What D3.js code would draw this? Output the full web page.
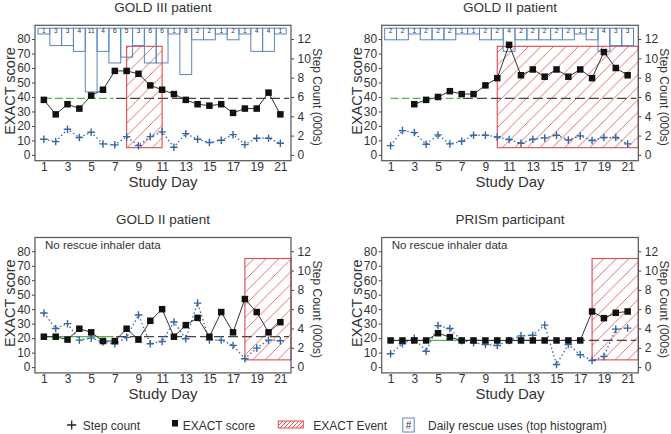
<!DOCTYPE html>
<html><head><meta charset="utf-8">
<script src="https://cdn.jsdelivr.net/npm/d3@7"></script>
<style>
html,body{margin:0;padding:0;background:#fff;}
svg{display:block;font-family:Arial,"Liberation Sans",sans-serif;}
</style></head>
<body>
<svg id="chart" width="671" height="434"></svg>
<script>
// ---------- data ----------
const days = [1,2,3,4,5,6,7,8,9,10,11,12,13,14,15,16,17,18,19,20,21];
const xTickLabels = [1,3,5,7,9,11,13,15,17,19,21];
const exactTicks = [0,10,20,30,40,50,60,70,80];
const stepTicks = [0,2,4,6,8,10,12];
const titles = ["GOLD III patient","GOLD II patient","GOLD II patient","PRISm participant"];

// EXACT scores
const p1Exact = [38,28,35,32,41,45,58,58,56,48,45,42,38,35,34,35,29,32,32,43,28];
const p2Exact = [null,null,35,38,40,44,42,42,48,53,76,55,59,54,59,54,59,53,71,60,55];
const p3Exact = [21,21,19,26.5,24,18,18,26.5,19,32,40,21,29,34,21,38,24,47,38,24,31];
const p4Exact = [18.4,18.4,18.4,18.4,23.4,20.7,18.4,18.4,18.4,18.4,18.4,18.4,18.4,18.4,18.4,18.4,18.4,38.4,33.8,37.5,38.4];

// Step counts (000s)
const p1Steps = [1.62,1.38,2.66,1.8,2.34,1.14,1.04,1.89,0.96,1.89,2.39,0.8,2.2,1.62,1.28,1.52,2.1,1.07,1.73,1.73,1.2];
const p2Steps = [0.96,2.52,2.31,1.11,2.07,1.14,1.41,2.04,2.04,1.86,1.59,1.2,1.62,1.76,2.04,1.55,1.97,1.49,1.8,1.8,1.14];
const p3Steps = [5.6,4.0,4.5,2.8,3.0,2.6,2.42,3.08,5.39,2.42,2.66,4.67,2.94,6.63,2.8,2.8,2.25,0.87,1.97,2.8,2.73];
const p4Steps = [1.38,2.42,3.0,1.65,4.3,4.0,2.73,2.52,2.34,2.24,2.76,3.24,3.3,4.35,0.27,2.34,1.28,0.69,1.11,3.93,4.04];

// Daily rescue inhaler uses (top histogram)
const p1Rescue = [1,3,3,4,11,4,6,5,3,6,6,1,8,2,2,1,2,1,4,4,1];
const p2Rescue = [2,2,1,2,2,2,1,1,2,2,4,2,2,2,2,2,1,2,4,3,3];

// Baseline EXACT (mean of first week)
const baselines = [39,39,21,18.5];
// EXACT event: [start day, end day] (22 = end of window)
const eventDays = [[8,11],[10,22],[18,22],[18,22]];
const eventRange = [5,75];

const legendLabels = ["Step count","EXACT score","EXACT Event","Daily rescue uses (top histogram)"];

// ---------- layout ----------
const svg = d3.select("#chart");
const cols = [[35,291],[381.7,638.3]];
const rows = [[25.3,160.7],[237.5,372.9]];
const panels = [
  {c:0,r:0,exact:p1Exact,steps:p1Steps,rescue:p1Rescue,greenSolid:false},
  {c:1,r:0,exact:p2Exact,steps:p2Steps,rescue:p2Rescue,greenSolid:false},
  {c:0,r:1,exact:p3Exact,steps:p3Steps,rescue:null,greenSolid:true},
  {c:1,r:1,exact:p4Exact,steps:p4Steps,rescue:null,greenSolid:true}
];

const RED = "#e2474b", BLUE = "#3567a6", HBLUE = "#5a86bf", GREEN = "#55b24f";

const defs = svg.append("defs");
function hatch(id, s, w){
  const p = defs.append("pattern").attr("id",id).attr("patternUnits","userSpaceOnUse")
    .attr("width",s).attr("height",s);
  [[0,s,s,0],[-s/4,s/4,s/4,-s/4],[s-s/4,s+s/4,s+s/4,s-s/4]].forEach(d=>{
    p.append("line").attr("x1",d[0]).attr("y1",d[1]).attr("x2",d[2]).attr("y2",d[3])
      .attr("stroke",RED).attr("stroke-width",w);
  });
}
hatch("hatch",12.5,0.8);
hatch("hatchS",4,0.9);

const plusPath = s => `M${-s/2},0H${s/2}M0,${-s/2}V${s/2}`;

panels.forEach((P,i)=>{
  const [x0,x1] = cols[P.c], [y0,y1] = rows[P.r];
  const x = d3.scaleLinear().domain([0.25,21.9]).range([x0,x1]);
  const y = d3.scaleLinear().domain([-4,89.5]).range([y1,y0]);
  const y2 = d3.scaleLinear().domain([-4*12/80,89.5*12/80]).range([y1,y0]);
  const g = svg.append("g");

  // title
  g.append("text").attr("x",(x0+x1)/2).attr("y",y0-13.5).attr("text-anchor","middle")
    .attr("font-size",13.5).attr("fill","#333").text(titles[i]);

  // axes
  const ax = g.append("g").attr("transform",`translate(${x0},0)`)
    .call(d3.axisLeft(y).tickValues(exactTicks).tickSize(3).tickPadding(1.5));
  const ax2 = g.append("g").attr("transform",`translate(${x1},0)`)
    .call(d3.axisRight(y2).tickValues(stepTicks).tickSize(3).tickPadding(3.5));
  const axb = g.append("g").attr("transform",`translate(0,${y1})`)
    .call(d3.axisBottom(x).tickValues(xTickLabels).tickSize(0).tickPadding(2));
  [ax,ax2,axb].forEach(a=>{
    a.select(".domain").remove();
    a.selectAll("line").attr("stroke","#444");
    a.selectAll("text").attr("font-size",12).attr("fill","#333").attr("font-family",null);
  });

  // axis titles
  g.append("text").attr("transform",`translate(${x0-20},${(y0+y1)/2-2}) rotate(-90)`)
    .attr("text-anchor","middle").attr("font-size",14.5).attr("fill","#333").text("EXACT score");
  g.append("text").attr("transform",`translate(${x1+22},${(y0+y1)/2+4}) rotate(90)`)
    .attr("text-anchor","middle").attr("font-size",12).attr("fill","#333").text("Step Count (000s)");
  g.append("text").attr("x",(x0+x1)/2).attr("y",y1+26.5).attr("text-anchor","middle")
    .attr("font-size",15).attr("fill","#333").text("Study Day");

  // EXACT event
  const ev = eventDays[i];
  const ex1 = Math.min(x(ev[1]), x1);
  g.append("rect").attr("x",x(ev[0])).attr("y",y(eventRange[1]))
    .attr("width",ex1-x(ev[0])).attr("height",y(eventRange[0])-y(eventRange[1]))
    .attr("fill","url(#hatch)").attr("stroke",RED).attr("stroke-width",1.1);

  // rescue histogram
  if(P.rescue){
    const hTop = 87.5, hUnit = 4;
    const hg = g.append("g");
    hg.selectAll("rect").data(P.rescue).join("rect")
      .attr("x",(d,j)=>x(days[j]-0.5)).attr("width",(d,j)=>x(days[j]+0.5)-x(days[j]-0.5))
      .attr("y",y(hTop)).attr("height",d=>y(hTop-hUnit*d)-y(hTop))
      .attr("fill","none").attr("stroke",HBLUE).attr("stroke-width",1);
    hg.selectAll("text").data(P.rescue).join("text")
      .attr("x",(d,j)=>x(days[j])).attr("y",y(hTop-hUnit*0.5)+2.2)
      .attr("text-anchor","middle").attr("font-size",6.5).attr("fill","#333").text(d=>d);
  } else {
    g.append("text").attr("x",x0+10).attr("y",y0+11).attr("font-size",11.5).attr("fill","#333")
      .text("No rescue inhaler data");
  }

  // baseline
  const b = baselines[i];
  g.append("line").attr("x1",x(1)).attr("x2",x(6.9)).attr("y1",y(b)).attr("y2",y(b))
    .attr("stroke",GREEN).attr("stroke-width",1.3).attr("stroke-dasharray",P.greenSolid?null:"8,3");
  g.append("line").attr("x1",x(7.1)).attr("x2",x1-2).attr("y1",y(b)).attr("y2",y(b))
    .attr("stroke","#444").attr("stroke-width",1.2).attr("stroke-dasharray","10,4");

  // step count
  const stepLine = d3.line().x((d,j)=>x(days[j])).y(d=>y2(d));
  g.append("path").attr("d",stepLine(P.steps)).attr("fill","none").attr("stroke",BLUE)
    .attr("stroke-width",1.3).attr("stroke-dasharray","1.5,2.5");
  g.selectAll(".plus").data(P.steps).join("path").attr("class","plus")
    .attr("transform",(d,j)=>`translate(${x(days[j])},${y2(d)})`)
    .attr("d",plusPath(7.5)).attr("stroke",BLUE).attr("stroke-width",1.4).attr("fill","none");

  // EXACT score
  const exLine = d3.line().defined(d=>d!=null).x((d,j)=>x(days[j])).y(d=>y(d));
  g.append("path").attr("d",exLine(P.exact)).attr("fill","none").attr("stroke","#333").attr("stroke-width",1);
  const sq = 6.5;
  g.selectAll(".sq").data(P.exact.map((d,j)=>({d,j})).filter(o=>o.d!=null)).join("rect").attr("class","sq")
    .attr("x",o=>x(days[o.j])-sq/2).attr("y",o=>y(o.d)-sq/2).attr("width",sq).attr("height",sq).attr("fill","#111");

  // frame
  g.append("rect").attr("x",x0).attr("y",y0).attr("width",x1-x0).attr("height",y1-y0)
    .attr("fill","none").attr("stroke","#555").attr("stroke-width",1.2);
});

// ---------- legend ----------
const lg = svg.append("g").attr("font-size",12).attr("fill","#333");
const ly = 426;
lg.append("path").attr("transform",`translate(71.7,${ly-1})`).attr("d",plusPath(9)).attr("stroke","#222").attr("stroke-width",1.3);
lg.append("text").attr("x",82.7).attr("y",ly+4).text(legendLabels[0]);
lg.append("rect").attr("x",172).attr("y",ly-6).attr("width",6).attr("height",6.5).attr("fill","#111");
lg.append("text").attr("x",182.7).attr("y",ly+4).text(legendLabels[1]);
lg.append("rect").attr("x",278.3).attr("y",ly-5).attr("width",25).attr("height",7)
  .attr("fill","url(#hatchS)").attr("stroke",RED).attr("stroke-width",1);
lg.append("text").attr("x",313.3).attr("y",ly+4).text(legendLabels[2]);
lg.append("rect").attr("x",402.8).attr("y",ly-8).attr("width",11.4).attr("height",14)
  .attr("fill","none").attr("stroke",HBLUE).attr("stroke-width",1);
lg.append("text").attr("x",408.5).attr("y",ly+3).attr("text-anchor","middle").attr("font-size",10).text("#");
lg.append("text").attr("x",428).attr("y",ly+4).text(legendLabels[3]);
</script>
</body></html>
